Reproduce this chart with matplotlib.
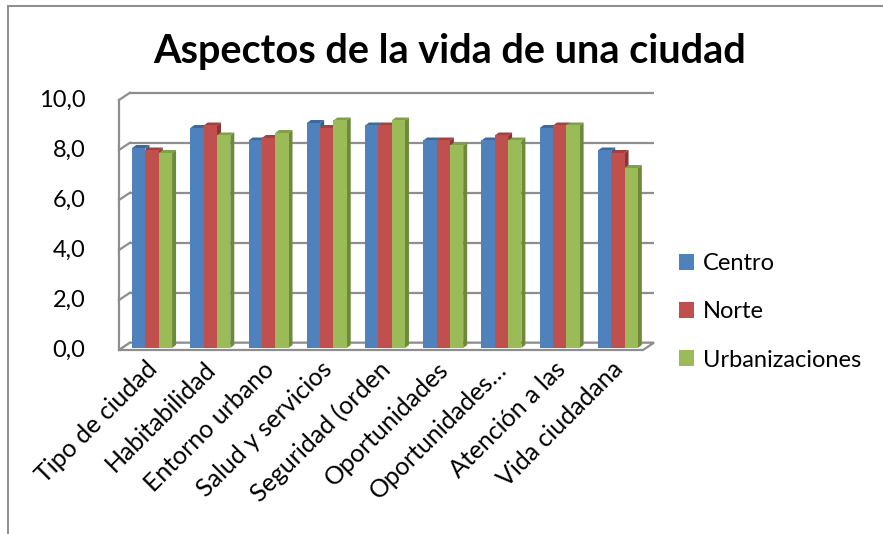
import matplotlib
matplotlib.use("Agg")
import matplotlib.pyplot as plt
from matplotlib.patches import Polygon, Patch, Rectangle

categories = ["Tipo de ciudad", "Habitabilidad", "Entorno urbano", "Salud y servicios",
              "Seguridad (orden", "Oportunidades", "Oportunidades…", "Atención a las",
              "Vida ciudadana"]
series = ["Centro", "Norte", "Urbanizaciones"]
centro = [8.0, 8.8, 8.3, 9.0, 8.9, 8.3, 8.3, 8.8, 7.9]
norte = [7.9, 8.9, 8.4, 8.8, 8.9, 8.3, 8.5, 8.9, 7.8]
urban = [7.8, 8.5, 8.6, 9.1, 9.1, 8.1, 8.3, 8.9, 7.2]
yticks = [0, 2, 4, 6, 8, 10]
ytick_labels = ["0,0", "2,0", "4,0", "6,0", "8,0", "10,0"]

face = ["#4F81BD", "#C0504D", "#9BBB59"]
top = ["#3D6A9E", "#A5403D", "#80A044"]
side = ["#375E8C", "#8A3533", "#6C8A3A"]
GRID = "#8E8E8E"
FONT = "Lato"
FS = 18

W, H = 883, 534
fig = plt.figure(figsize=(W / 100, H / 100), dpi=100)

# plot plane (bars): x 0..9 -> px 123..647, y 0..10 -> px 348..98
X0, X1, Y0, Y1 = 123, 647, 348, 98
ax = fig.add_axes([X0 / W, 1 - Y0 / H, (X1 - X0) / W, (Y0 - Y1) / H])
ax.set_xlim(0, 9)
ax.set_ylim(0, 10)
pxx = (X1 - X0) / 9.0
pxy = (Y0 - Y1) / 10.0

# wall offsets in data units (front and back planes)
fdx, fdy = -4 / pxx, -2 / pxy
bdx, bdy = 7 / pxx, 5.3 / pxy

# back wall gridlines + side wall diagonals
for yv in yticks:
    ax.plot([0 + bdx, 9 + bdx], [yv + bdy, yv + bdy], color=GRID, lw=1.6,
            clip_on=False, zorder=1, solid_capstyle="butt")
    ax.plot([0 + fdx, 0 + bdx], [yv + fdy, yv + bdy], color=GRID, lw=1.6,
            clip_on=False, zorder=1)
# left front edge
ax.plot([fdx, fdx], [fdy, 10 + fdy], color=GRID, lw=1.6, clip_on=False, zorder=1)
# floor
floor = Polygon([(fdx, fdy), (9 + fdx, fdy), (9 + bdx, bdy), (bdx, bdy)],
                closed=True, facecolor="white", edgecolor=GRID, lw=1.6,
                clip_on=False, zorder=1)
ax.add_patch(floor)

# bars
bw = 13.3 / pxx
ddx, ddy = 4 / pxx, 3 / pxy
for i in range(len(categories)):
    for k, vals in enumerate([centro, norte, urban]):
        v = vals[i]
        xl = i + 0.5 - 1.5 * bw + k * bw
        z = 3 + i * 3 + k
        ax.add_patch(Polygon([(xl + bw, 0), (xl + bw + ddx, ddy), (xl + bw + ddx, v + ddy),
                              (xl + bw, v)], closed=True, facecolor=side[k], lw=0,
                             clip_on=False, zorder=z))
        ax.add_patch(Polygon([(xl, v), (xl + bw, v), (xl + bw + ddx, v + ddy),
                              (xl + ddx, v + ddy)], closed=True, facecolor=top[k], lw=0,
                             clip_on=False, zorder=z))
        ax.add_patch(Rectangle((xl, 0), bw, v, facecolor=face[k], lw=0,
                               clip_on=False, zorder=z))

for s in ax.spines.values():
    s.set_visible(False)
ax.set_facecolor("none")
ax.set_yticks(yticks)
ax.set_yticklabels(ytick_labels, fontsize=17, family=FONT)
ax.tick_params(axis="y", length=0, pad=27)
ax.set_xticks([])

for i, name in enumerate(categories):
    ax.text(i + 0.5 + 0.03, -0.7, name, rotation=45, rotation_mode="anchor",
            ha="right", va="center", fontsize=FS, family=FONT, clip_on=False)

fig.text(450 / W, 1 - 52 / H, "Aspectos de la vida de una ciudad", ha="center",
         va="center", fontsize=28.5, fontweight="bold", family=FONT)

handles = [Patch(facecolor=c, edgecolor="none") for c in face]
fig.legend(handles, series, loc="center left", bbox_to_anchor=(679 / W, 1 - 312 / H),
           frameon=False, prop={"family": FONT, "size": 17}, borderpad=0,
           borderaxespad=0, handlelength=0.65, handleheight=0.65, handletextpad=0.35,
           labelspacing=1.15)

# chart border (clipped by the image edges)
fig.add_artist(Rectangle((8 / W, -0.1), 1.2, 1 - 6 / H + 0.1, transform=fig.transFigure,
                         facecolor="none", edgecolor="#8C8C8C", lw=1.4))

fig.savefig("out.png", dpi=100)
